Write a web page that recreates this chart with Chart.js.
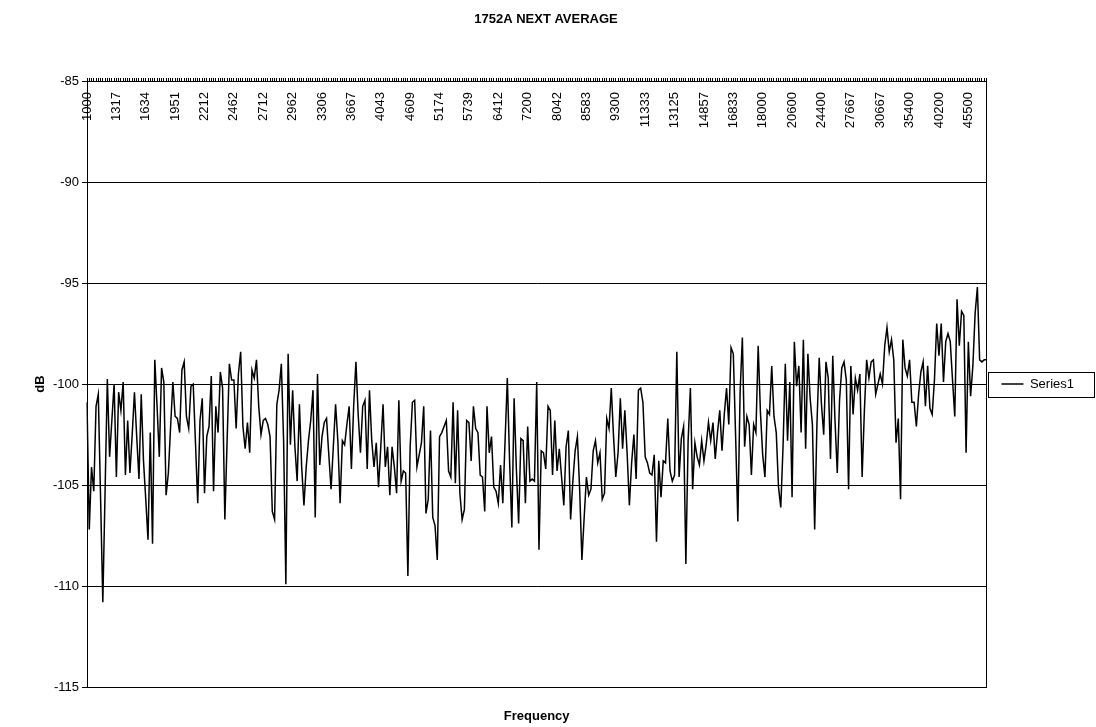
<!DOCTYPE html>
<html>
<head>
<meta charset="utf-8">
<title>1752A NEXT AVERAGE</title>
<script src="https://cdn.jsdelivr.net/npm/chart.js@4.4.0/dist/chart.umd.min.js"></script>
<style>
  html, body { margin: 0; padding: 0; background: #fff; }
  canvas { display: block; }
</style>
</head>
<body>
<canvas id="myChart" width="1096" height="727"></canvas>
<script>
// frequency labels shown on the axis (one every 13 samples)
const tickLabels = ['1000', '1317', '1634', '1951', '2212', '2462', '2712', '2962', '3306', '3667',
  '4043', '4609', '5174', '5739', '6412', '7200', '8042', '8583', '9300', '11333',
  '13125', '14857', '16833', '18000', '20600', '24400', '27667', '30667', '35400', '40200', '45500'];
const labelEvery = 13;

// dB values (left to right)
const dbPart1 = [-100.9, -107.2, -104.1, -105.3, -101.1, -100.5, -105.6, -110.8, -105.3, -99.75,
  -103.6, -101.8, -100.0, -104.6, -100.4, -101.3, -99.9, -104.5, -101.8, -104.4,
  -102.5, -100.4, -102.6, -104.7, -100.5, -103.8, -105.7, -107.7, -102.4, -107.9,
  -98.8, -101.1, -103.6, -99.2, -99.9, -105.5, -104.4, -102.1, -99.9, -101.6,
  -101.7, -102.4, -99.3, -98.9, -101.6, -102.2, -100.1, -100.0, -102.9, -105.9,
  -101.8, -100.7];
const dbPart2 = [-105.4, -102.6, -102.1, -99.6, -105.3, -101.1, -102.4, -99.4, -100.2, -106.7,
  -102.8, -99.0, -99.8, -99.8, -102.2, -99.5, -98.4, -102.1, -103.2, -101.9,
  -103.4, -99.3, -99.7, -98.8, -101.1, -102.5, -101.8, -101.7, -102.0, -102.6,
  -106.3, -106.7, -101.0, -100.3, -99.0, -102.8, -109.9, -98.5, -103.0, -100.3,
  -103.1, -104.8, -101.0, -104.1, -106.0, -104.1, -102.8, -101.8, -100.3, -106.6];
const dbPart3 = [-99.5, -104.0, -102.6, -101.9, -101.7, -103.5, -105.2, -103.1, -101.0, -102.8,
  -105.9, -102.8, -103.0, -102.0, -101.1, -104.2, -101.1, -98.9, -101.5, -103.4,
  -101.1, -100.8, -104.2, -100.3, -102.8, -104.1, -102.9, -105.1, -103.1, -101.0,
  -104.1, -103.1, -105.5, -103.1, -104.1, -105.4, -100.8, -104.8, -104.3, -104.4,
  -109.5, -103.1, -100.9, -100.8, -104.1, -103.5, -102.9, -101.1, -106.4];
const dbPart4 = [-105.7, -102.3, -106.6, -107.0, -108.7, -102.6, -102.4, -102.1, -101.8, -104.3,
  -104.6, -100.9, -104.9, -101.3, -105.4, -106.7, -106.2, -101.8, -101.9, -103.8,
  -101.1, -102.2, -102.4, -104.5, -104.6, -106.3, -101.1, -103.4, -102.6, -105.1,
  -105.3, -105.9, -104.0, -105.9, -102.8, -99.7, -103.8, -107.1, -100.7, -104.2,
  -106.9, -102.7, -102.8, -105.9, -102.1, -104.8, -104.7, -104.8, -99.9, -108.2];
const dbPart5 = [-103.3, -103.4, -104.2, -101.1, -101.3, -104.5, -101.8, -104.3, -103.2, -104.6,
  -106.0, -103.1, -102.3, -106.7, -104.8, -103.3, -102.6, -105.2, -108.7, -106.6,
  -104.6, -105.5, -105.2, -103.3, -102.8, -103.9, -103.4, -105.7, -105.4, -101.7,
  -102.2, -100.2, -102.6, -104.6, -103.4, -100.7, -103.2, -101.3, -103.4, -106.0,
  -103.9, -102.5, -104.7, -100.3, -100.2, -100.9, -103.6, -103.9, -104.4, -104.5];
const dbPart6 = [-103.5, -107.8, -103.8, -105.6, -103.8, -103.9, -101.7, -104.3, -104.8, -104.5,
  -98.4, -104.6, -102.7, -102.1, -108.9, -102.8, -100.2, -105.2, -102.9, -103.6,
  -104.0, -102.8, -103.8, -103.0, -101.9, -102.8, -101.9, -103.7, -102.4, -101.3,
  -103.3, -101.5, -100.2, -102.0, -98.2, -98.5, -102.5, -106.8, -100.4, -97.7,
  -103.1, -101.6, -102.0, -104.5, -102.0, -102.4, -98.1, -101.4, -103.5, -104.6];
const dbPart7 = [-101.3, -101.5, -99.1, -101.6, -102.4, -105.1, -106.1, -103.1, -99.0, -102.8,
  -99.9, -105.6, -97.9, -100.1, -99.1, -102.4, -97.8, -103.2, -98.5, -100.7,
  -102.0, -107.2, -102.0, -98.7, -101.0, -102.5, -98.9, -99.7, -103.7, -98.6,
  -101.8, -104.4, -100.8, -99.2, -98.9, -99.8, -105.2, -99.1, -101.5, -99.7,
  -100.3, -99.5, -104.6, -101.3, -98.8, -99.7, -98.9, -98.8, -100.5, -100.0];
const dbPart8 = [-99.5, -100.0, -98.1, -97.2, -98.4, -97.8, -98.8, -102.9, -101.7, -105.7,
  -97.8, -99.2, -99.6, -98.8, -100.9, -100.9, -102.1, -100.5, -99.4, -98.9,
  -101.1, -99.1, -101.2, -101.5, -99.8, -97.0, -98.6, -97.0, -99.9, -97.9,
  -97.5, -97.9, -99.8, -101.6, -95.8, -98.1, -96.4, -96.6, -103.4, -97.9,
  -100.6, -99.1, -96.5, -95.2, -98.8, -98.9, -98.8, -98.8];

const dbValues = [].concat(dbPart1, dbPart2, dbPart3, dbPart4, dbPart5, dbPart6, dbPart7, dbPart8);

// one category per sample, only every 13th gets a visible label
const categories = dbValues.map((v, i) => (i % labelEvery === 0 ? (tickLabels[i / labelEvery] || '') : ''));

const FONT = "Arial, 'Liberation Sans', sans-serif";

// frame round the plot area and round the legend, like the spreadsheet chart
const framePlugin = {
  id: 'frames',
  afterDraw(chart) {
    const ctx = chart.ctx;
    const a = chart.chartArea;
    ctx.save();
    ctx.strokeStyle = '#000';
    ctx.lineWidth = 1;
    ctx.strokeRect(Math.round(a.left) + 0.5, Math.round(a.top) + 0.5,
      Math.round(a.right - a.left), Math.round(a.bottom - a.top));
    const hb = chart.legend && chart.legend.legendHitBoxes && chart.legend.legendHitBoxes[0];
    if (hb) {
      const cy = hb.top + hb.height / 2;
      ctx.strokeRect(Math.round(hb.left - 13) + 0.5, Math.round(cy - 12.5) + 0.5, 106, 25);
    }
    ctx.restore();
  }
};

new Chart('myChart', {
  type: 'line',
  data: {
    labels: categories,
    datasets: [{
      label: 'Series1',
      data: dbValues,
      borderColor: '#000',
      backgroundColor: '#000',
      borderWidth: 1.5,
      pointRadius: 0,
      tension: 0,
      fill: false
    }]
  },
  options: {
    responsive: false,
    animation: false,
    layout: { padding: { left: 8, right: 12, top: 0, bottom: 0 } },
    plugins: {
      title: {
        display: true,
        text: '1752A NEXT AVERAGE',
        color: '#000',
        font: { family: FONT, size: 13, weight: 'bold' },
        padding: { top: 12, bottom: 53.4 }
      },
      legend: {
        position: 'right',
        fullSize: false,
        labels: {
          color: '#000',
          font: { family: FONT, size: 13 },
          usePointStyle: true,
          pointStyle: 'line',
          pointStyleWidth: 22,
          padding: 15
        }
      },
      tooltip: { enabled: false }
    },
    scales: {
      x: {
        type: 'category',
        position: { y: -85 },
        offset: false,
        grid: { display: true, drawOnChartArea: false, drawTicks: true, tickLength: -4, color: '#000', lineWidth: 1 },
        border: { display: true, color: '#000' },
        ticks: {
          autoSkip: false,
          minRotation: 90,
          maxRotation: 90,
          padding: 15,
          color: '#000',
          font: { family: FONT, size: 13 }
        }
      },
      x2: {
        type: 'category',
        position: 'bottom',
        offset: false,
        grid: { display: false, drawTicks: false },
        border: { display: false },
        ticks: { display: false },
        title: {
          display: true,
          text: 'Frequency',
          color: '#000',
          font: { family: FONT, size: 13, weight: 'bold' },
          padding: { top: 21, bottom: 3.2 }
        }
      },
      y: {
        min: -115,
        max: -85,
        ticks: { stepSize: 5, padding: 3, color: '#000', font: { family: FONT, size: 13 } },
        grid: { color: '#000', lineWidth: 1, tickLength: 5 },
        border: { display: true, color: '#000' },
        title: {
          display: true,
          text: 'dB',
          color: '#000',
          font: { family: FONT, size: 13, weight: 'bold' },
          padding: { top: 24.2, bottom: 0 }
        },
        afterFit(scale) { scale.width = 79; }
      }
    }
  },
  plugins: [framePlugin]
});
</script>
</body>
</html>
